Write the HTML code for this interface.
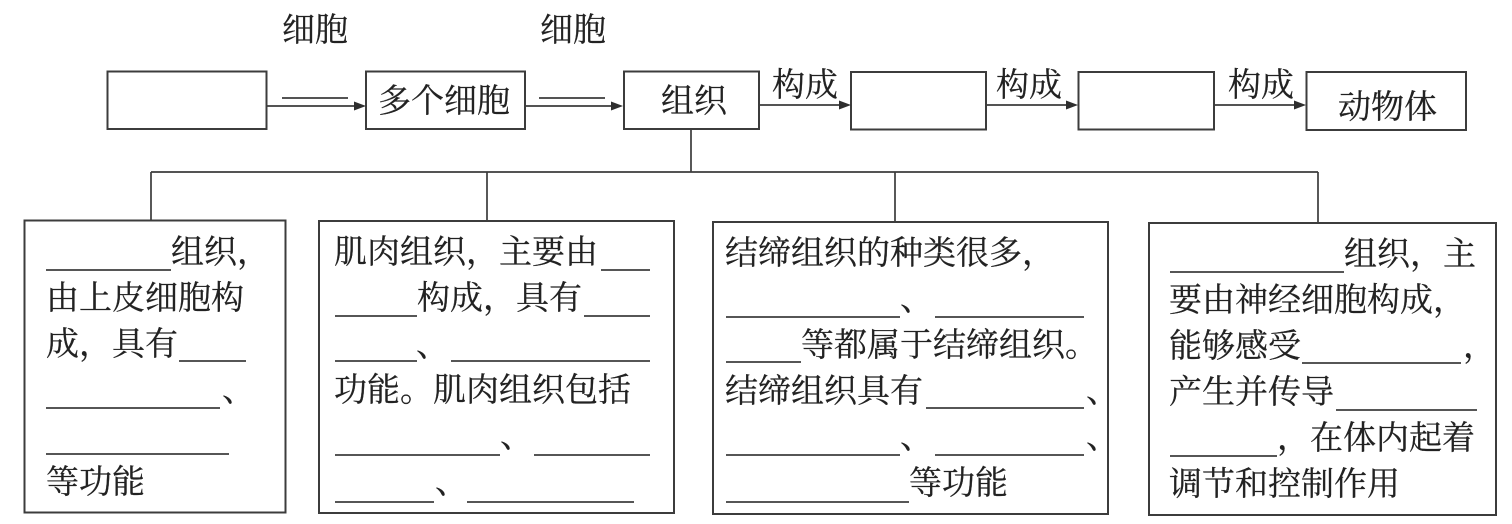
<!DOCTYPE html>
<html lang="zh"><head><meta charset="utf-8"><style>
html,body{margin:0;padding:0;background:#fff;width:1512px;height:524px;overflow:hidden}
svg{display:block}
text{font-family:"Liberation Serif","Noto Serif CJK SC",serif;font-size:33px;fill:#222;stroke:#222;stroke-width:.25px;letter-spacing:0}
.b{fill:none;stroke:#3c3c3c;stroke-width:2}
.l{stroke:#3c3c3c;stroke-width:1.7;fill:none}
.u{stroke:#3f3f3f;stroke-width:1.8;fill:none}
.a{fill:#2e2e2e}
</style></head><body>
<svg width="1512" height="524" viewBox="0 0 1512 524" xmlns="http://www.w3.org/2000/svg">
<rect width="1512" height="524" fill="#fff"/>
<!-- top row -->
<rect class="b" x="107.5" y="71.5" width="159" height="57.5"/>
<rect class="b" x="366" y="71.5" width="159" height="57.5"/>
<rect class="b" x="624" y="71.5" width="135" height="57.5"/>
<rect class="b" x="851" y="72" width="135" height="57.5"/>
<rect class="b" x="1078.5" y="72" width="135.5" height="57.5"/>
<rect class="b" x="1306.5" y="72" width="159.5" height="58"/>
<text x="282" y="41">细胞</text><text x="540" y="41">细胞</text>
<text x="378" y="112">多个细胞</text><text x="661" y="112">组织</text>
<text x="772" y="96">构成</text><text x="996" y="96">构成</text><text x="1228" y="96">构成</text>
<text x="1338" y="118">动物体</text>
<path class="l" d="M282 98H348M539 98H605"/>
<path class="l" d="M267 106H358M525 106H615M759 105H843M986 105H1070M1214 105H1298"/>
<path class="a" d="M366 106l-12-4.500v9zM623 106l-12-4.500v9zM851 105l-12-4.500v9zM1078 105l-12-4.500v9zM1306 105l-12-4.500v9z"/>
<!-- tree -->
<path class="l" d="M691 129V172M151 172H1318M151 172V220M487 172V221M895 172V222M1318 172V223"/>
<!-- box 1 -->
<rect class="b" x="24.500" y="220.500" width="261" height="292"/>
<text x="171" y="263">组织，</text>
<text x="46" y="309">由上皮细胞构</text>
<text x="46" y="355">成，具有</text>
<text x="222" y="401">、</text>
<text x="46" y="493">等功能</text>
<path class="u" d="M46 270H171M179 361H246M46 408H220M46 454H229"/>
<!-- box 2 -->
<rect class="b" x="319" y="221" width="355" height="292"/>
<text x="334" y="263">肌肉组织，主要由</text>
<text x="417" y="309">构成，具有</text>
<text x="416" y="356">、</text>
<text x="334" y="401">功能。肌肉组织包括</text>
<text x="500" y="447">、</text>
<text x="435" y="493">、</text>
<path class="u" d="M601 270H650M335 316H417M584 316H650M335 361H417M451 361H650M335 455H500M534 455H650M335 502H434M467 502H634"/>
<!-- box 3 -->
<rect class="b" x="713" y="222" width="395" height="292"/>
<text x="725" y="264">结缔组织的种类很多，</text>
<text x="900" y="310">、</text>
<text x="801" y="356">等都属于结缔组织。</text>
<text x="725" y="402">结缔组织具有</text>
<text x="1086" y="402">、</text>
<text x="900" y="448">、</text>
<text x="1086" y="448">、</text>
<text x="909" y="494">等功能</text>
<path class="u" d="M726 317H900M935 317H1084M726 362H801M926 408H1084M726 455H900M935 455H1084M726 502H909"/>
<!-- box 4 -->
<rect class="b" x="1149" y="223" width="347" height="292"/>
<text x="1344" y="265">组织，主</text>
<text x="1169" y="311">要由神经细胞构成，</text>
<text x="1169" y="357">能够感受</text>
<text x="1463" y="357">，</text>
<text x="1169" y="403">产生并传导</text>
<text x="1277" y="449">，在体内起着</text>
<text x="1169" y="495">调节和控制作用</text>
<path class="u" d="M1170 272H1344M1302 363H1461M1336 410H1477M1170 456H1277"/>
</svg>
</body></html>
